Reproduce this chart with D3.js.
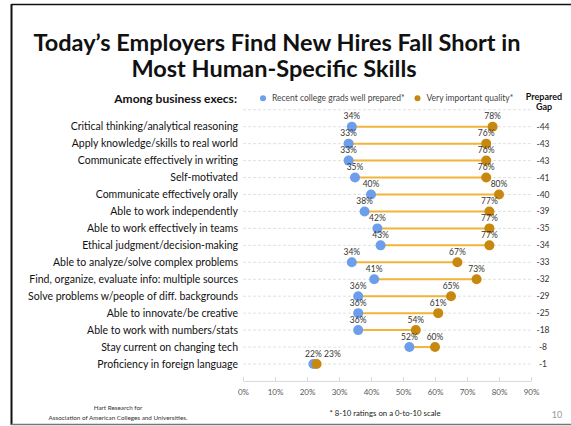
<!DOCTYPE html>
<html><head><meta charset="utf-8">
<script src="https://cdn.jsdelivr.net/npm/d3@7"></script>
<style>
html,body{margin:0;padding:0;background:#fff;}
svg{display:block;font-family:"Lato","Open Sans",sans-serif;}
</style></head>
<body>
<svg id="chart" width="571" height="426"></svg>
<script>
const categories = [
  "Critical thinking/analytical reasoning",
  "Apply knowledge/skills to real world",
  "Communicate effectively in writing",
  "Self-motivated",
  "Communicate effectively orally",
  "Able to work independently",
  "Able to work effectively in teams",
  "Ethical judgment/decision-making",
  "Able to analyze/solve complex problems",
  "Find, organize, evaluate info: multiple sources",
  "Solve problems w/people of diff. backgrounds",
  "Able to innovate/be creative",
  "Able to work with numbers/stats",
  "Stay current on changing tech",
  "Proficiency in foreign language"
];
const prepared  = [34, 33, 33, 35, 40, 38, 42, 43, 34, 41, 36, 36, 36, 52, 22];
const important = [78, 76, 76, 76, 80, 77, 77, 77, 67, 73, 65, 61, 54, 60, 23];
const gaps      = [-44, -43, -43, -41, -40, -39, -35, -34, -33, -32, -29, -25, -18, -8, -1];
const xTicks    = [0, 10, 20, 30, 40, 50, 60, 70, 80, 90];
const seriesNames = ["Recent college grads well prepared*", "Very important quality*"];

const colBlue = "#6d9eeb", colOrange = "#c8870e", colLine = "#f2b43a";

const svg = d3.select("#chart");

// frame
svg.append("line").attr("x1",11.5).attr("x2",571).attr("y1",4.5).attr("y2",4.5).attr("stroke","#111").attr("stroke-width",1.5);
svg.append("line").attr("x1",11.5).attr("x2",11.5).attr("y1",4).attr("y2",425).attr("stroke","#111").attr("stroke-width",2);
svg.append("line").attr("x1",11).attr("x2",571).attr("y1",424.5).attr("y2",424.5).attr("stroke","#777").attr("stroke-width",1.5);

// title
const title = svg.append("text").attr("text-anchor","middle").attr("font-weight","bold")
  .attr("font-size",23.5).attr("fill","#111");
title.append("tspan").attr("x",277).attr("y",51).text("Today\u2019s Employers Find New Hires Fall Short in");
title.append("tspan").attr("x",274).attr("y",77).text("Most Human-Specific Skills");

const data = categories.map((c,i)=>({cat:c, p:prepared[i], v:important[i], g:gaps[i]}));

const x = d3.scaleLinear().domain([0,90]).range([243,531]);
const y = d3.scalePoint().domain(categories).range([126.7,364]);
const step = y.step();

// gridlines (one above first row + each row)
const gridY = [y(categories[0]) - step].concat(categories.map(c=>y(c)));
svg.append("g").selectAll("line").data(gridY).join("line")
  .attr("x1",x(0)).attr("x2",x(90)).attr("y1",d=>d).attr("y2",d=>d)
  .attr("stroke","#d9d9d9").attr("stroke-width",0.8).attr("stroke-dasharray","3,2");

// x axis
const axisY = y(categories[categories.length-1]) + step;
const ax = svg.append("g").attr("transform",`translate(0,${axisY})`)
  .call(d3.axisBottom(x).tickValues(xTicks).tickFormat(d=>d+"%").tickSizeInner(-4).tickSizeOuter(0).tickPadding(8));
ax.select(".domain").attr("stroke","#d9d9d9");
ax.selectAll(".tick line").attr("stroke","#d9d9d9");
ax.selectAll("text").attr("font-size",8).attr("fill","#595959").attr("font-family","Lato, sans-serif");

// category labels
svg.append("g").selectAll("text").data(data).join("text")
  .attr("x",238).attr("y",d=>y(d.cat)+3.5).attr("text-anchor","end")
  .attr("font-size",10.5).attr("fill","#111").text(d=>d.cat);

// connecting lines
svg.append("g").selectAll("line").data(data).join("line")
  .attr("x1",d=>x(d.p)).attr("x2",d=>x(d.v)).attr("y1",d=>y(d.cat)).attr("y2",d=>y(d.cat))
  .attr("stroke",colLine).attr("stroke-width",2);

// dots
svg.append("g").selectAll("circle").data(data).join("circle")
  .attr("cx",d=>x(d.p)).attr("cy",d=>y(d.cat)).attr("r",5).attr("fill",colBlue);
svg.append("g").selectAll("circle").data(data).join("circle")
  .attr("cx",d=>x(d.v)).attr("cy",d=>y(d.cat)).attr("r",5).attr("fill",colOrange);

// value labels
const lblSize = 8.5;
svg.append("g").selectAll("text").data(data).join("text")
  .attr("x",d=>x(d.p)).attr("y",d=>y(d.cat)-7.3).attr("text-anchor","middle")
  .attr("font-size",lblSize).attr("fill","#333").text(d=>d.p+"%");
svg.append("g").selectAll("text").data(data).join("text")
  .attr("x",d=> (x(d.v)-x(d.p) < 18) ? x(d.p)+19 : x(d.v))
  .attr("y",d=>y(d.cat)-7.3).attr("text-anchor","middle")
  .attr("font-size",lblSize).attr("fill","#333").text(d=>d.v+"%");

// gap labels
svg.append("g").selectAll("text").data(data).join("text")
  .attr("x",543).attr("y",d=>y(d.cat)+3).attr("text-anchor","middle")
  .attr("font-size",8.5).attr("fill","#333").text(d=>d.g);

// headers
svg.append("text").attr("x",237).attr("y",103).attr("text-anchor","end").attr("font-weight","bold")
  .attr("font-size",12).attr("fill","#111").text("Among business execs:");
const gh = svg.append("text").attr("text-anchor","middle").attr("font-weight","bold").attr("font-size",9).attr("fill","#111");
gh.append("tspan").attr("x",544).attr("y",100).text("Prepared");
gh.append("tspan").attr("x",544).attr("y",110).text("Gap");

// legend
const leg = [{n:seriesNames[0], c:colBlue, x:263}, {n:seriesNames[1], c:colOrange, x:417.5}];
const lg = svg.append("g").selectAll("g").data(leg).join("g");
lg.append("circle").attr("cx",d=>d.x).attr("cy",98.3).attr("r",3).attr("fill",d=>d.c);
lg.append("text").attr("x",d=>d.x+9).attr("y",101).attr("font-size",8.5).attr("fill","#444").text(d=>d.n);

// footer
const src = svg.append("text").attr("text-anchor","middle").attr("font-size",6.3).attr("fill","#333");
src.append("tspan").attr("x",118).attr("y",410).text("Hart Research for");
src.append("tspan").attr("x",118).attr("y",420).text("Association of American Colleges and Universities.");
svg.append("text").attr("x",385).attr("y",416).attr("text-anchor","middle").attr("font-size",7.8).attr("fill","#222")
  .text("* 8-10 ratings on a 0-to-10 scale");
svg.append("text").attr("x",557).attr("y",418).attr("text-anchor","middle").attr("font-size",9).attr("fill","#999").text("10");
</script>
</body></html>
